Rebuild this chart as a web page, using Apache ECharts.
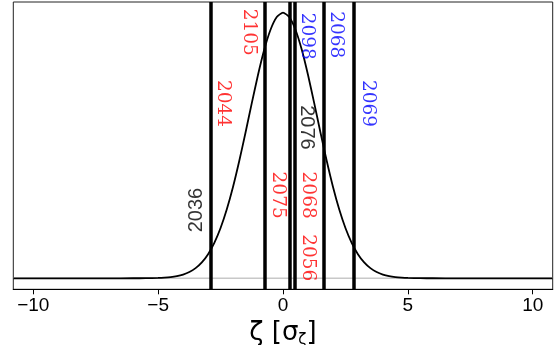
<!DOCTYPE html>
<html>
<head>
<meta charset="utf-8">
<script src="https://cdn.jsdelivr.net/npm/echarts@6/dist/echarts.min.js"></script>
<style>html,body{margin:0;padding:0;background:#fff}#c{width:560px;height:345px}</style>
</head>
<body>
<div id="c"></div>
<script>
// ---- data ----
var xTicks = [-10, -5, 0, 5, 10];
var curveX = [-10.8, -8, -7, -6, -5.5, -5, -4.75, -4.5, -4.25, -4, -3.75, -3.5, -3.25, -3, -2.75, -2.5, -2.25, -2, -1.75, -1.5, -1.25, -1, -0.75, -0.5, -0.25, 0,
              0.25, 0.5, 0.75, 1, 1.25, 1.5, 1.75, 2, 2.25, 2.5, 2.75, 3, 3.25, 3.5, 3.75, 4, 4.25, 4.5, 4.75, 5, 5.5, 6, 7, 8, 10.8];
var curveY = [0, 0, 0, 0.0001, 0.0003, 0.0013, 0.0025, 0.0045, 0.0081, 0.0141, 0.0236, 0.0383, 0.06, 0.0909, 0.1334, 0.1892, 0.2596, 0.3446, 0.4423, 0.549, 0.6595, 0.766, 0.861, 0.9356, 0.9835, 1,
              0.9835, 0.9356, 0.861, 0.766, 0.6595, 0.549, 0.4423, 0.3446, 0.2596, 0.1892, 0.1334, 0.0909, 0.06, 0.0383, 0.0236, 0.0141, 0.0081, 0.0045, 0.0025, 0.0013, 0.0003, 0.0001, 0, 0, 0];
var lineX = [-2.90, -0.74, 0.27, 0.47, 1.63, 2.83];
var labelText = ['2036', '2044', '2105', '2075', '2098', '2076', '2068', '2056', '2068', '2069'];
var labelLine = [0, 0, 1, 2, 3, 3, 3, 3, 4, 5];
var labelY    = [0.257, 0.658, 0.926, 0.313, 0.911, 0.568, 0.313, 0.077, 0.917, 0.658];
var labelGroup = ['k', 'r', 'r', 'r', 'b', 'k', 'r', 'r', 'b', 'b'];

// ---- styles ----
var groupColor = { k: '#000000', r: '#ff0000', b: '#0000ff' };
var labelDx = [-14, 12, -16, -12, 12, 12, 13, 13, 12, 14];

var chart = echarts.init(document.getElementById('c'), null, { renderer: 'canvas' });

var curveData = curveX.map(function (x, i) { return [x, curveY[i]]; });
var labelData = labelText.map(function (t, i) {
  var g = labelGroup[i];
  var sans = g === 'k';
  var ccw = (i === 0);
  // offset is applied in the label's rotated frame
  var off = ccw ? [0, labelDx[i]] : [0, -labelDx[i]];
  return {
    value: [lineX[labelLine[i]], labelY[i]],
    label: {
      show: true,
      formatter: t,
      position: 'inside',
      offset: off,
      rotate: ccw ? 90 : -90,
      color: groupColor[g],
      fontFamily: sans ? '"Liberation Sans", sans-serif' : '"DejaVu Serif", serif',
      fontSize: sans ? 20 : 18.5,
      align: 'center',
      verticalAlign: 'middle'
    }
  };
});

chart.setOption({
  animation: false,
  grid: { left: 13.3, right: 7.3, top: 2, bottom: 55.7, show: true, borderColor: '#222', borderWidth: 1,
          backgroundColor: 'transparent', outerBoundsMode: 'none', containLabel: false },
  xAxis: {
    type: 'value', min: -10.8, max: 10.8,
    splitLine: { show: false },
    axisLine: { show: true, onZero: false, lineStyle: { color: '#000', width: 1.2 } },
    axisTick: { show: true, length: 5, lineStyle: { color: '#000' }, customValues: xTicks },
    axisLabel: { customValues: xTicks, color: '#000', fontFamily: 'Liberation Sans', fontSize: 19, margin: 7,
                 formatter: function (v) { return v < 0 ? '\u2212' + Math.abs(v) : String(v); } },
    name: '{a|\u03B6 [\u03C3}{s|\u03B6}{a|]}',
    nameLocation: 'middle', nameGap: 24,
    nameTextStyle: {
      rich: {
        a: { fontFamily: 'DejaVu Sans', fontSize: 26, color: '#000' },
        s: { fontFamily: 'DejaVu Sans', fontSize: 15, color: '#000', padding: [13, 0, 0, 0] }
      }
    }
  },
  yAxis: { type: 'value', min: -0.0414, max: 1.04, show: false, splitLine: { show: false } },
  series: [
    { type: 'line', data: [[-10.8, 0], [10.8, 0]], symbol: 'none', lineStyle: { color: '#c8c8c8', width: 1.5 }, z: 1 },
    { type: 'line', data: curveData, symbol: 'none', smooth: 0.2, lineStyle: { color: '#000', width: 1.8 }, z: 2 },
    { type: 'line', data: [], symbol: 'none', z: 3,
      markLine: { symbol: 'none', silent: true, label: { show: false },
        lineStyle: { color: '#000', width: 3.5, type: 'solid' },
        data: lineX.map(function (v) { return { xAxis: v }; }) } },
    { type: 'scatter', data: labelData, symbolSize: 0, z: 4 }
  ]
});
</script>
</body>
</html>
